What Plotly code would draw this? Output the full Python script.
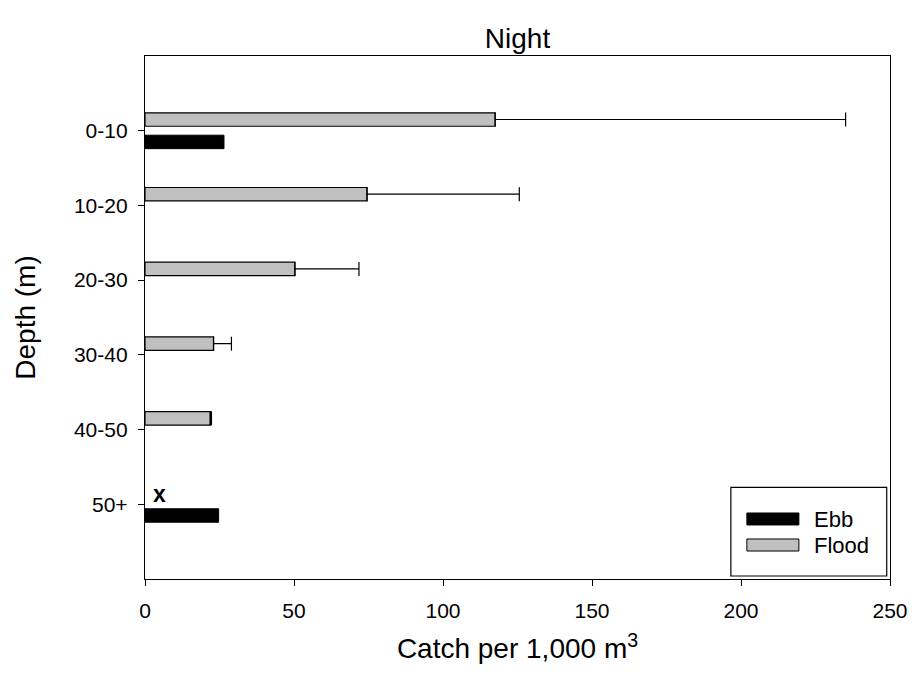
import plotly.graph_objects as go

depths = ["0-10", "10-20", "20-30", "30-40", "40-50", "50+"]
flood = [117.5, 74.5, 50.3, 23.0, 21.9, None]
flood_err = [117.6, 51.1, 21.5, 6.0, 0.4, None]
ebb = [26.5, None, None, None, None, 24.7]
x_ticks = [0, 50, 100, 150, 200, 250]

FONT = "Liberation Sans, Arial, sans-serif"

fig = go.Figure()
fig.add_trace(go.Bar(
    y=depths, x=flood, orientation="h", name="Flood",
    marker=dict(color="#c0c0c0", line=dict(color="black", width=1.2)),
    error_x=dict(type="data", array=flood_err, arrayminus=[0] * len(flood_err),
                 symmetric=False, color="black", thickness=1.2, width=7),
    showlegend=False,
))
fig.add_trace(go.Bar(
    y=depths, x=ebb, orientation="h", name="Ebb",
    marker=dict(color="black", line=dict(color="black", width=1)),
    showlegend=False,
))

# marker for the 50+ flood cell
fig.add_annotation(x=5, y="50+", text="<b>x</b>", showarrow=False, yshift=10,
                   font=dict(family=FONT, size=23, color="black"))

# custom legend box (paper coordinates)
fig.add_shape(type="rect", xref="paper", yref="paper", x0=0.7864, x1=0.9956, y0=0.0057, y1=0.1753,
              line=dict(color="black", width=1.2), fillcolor="white")
fig.add_shape(type="rect", xref="paper", yref="paper", x0=0.8079, x1=0.8777, y0=0.1033, y1=0.1262,
              line=dict(color="black", width=1), fillcolor="black")
fig.add_shape(type="rect", xref="paper", yref="paper", x0=0.8079, x1=0.8777, y0=0.0535, y1=0.0765,
              line=dict(color="black", width=1), fillcolor="#c0c0c0")
fig.add_annotation(xref="paper", yref="paper", x=0.8952, y=0.1147, text="Ebb", showarrow=False,
                   xanchor="left", yanchor="middle", font=dict(family=FONT, size=22, color="black"))
fig.add_annotation(xref="paper", yref="paper", x=0.8952, y=0.065, text="Flood", showarrow=False,
                   xanchor="left", yanchor="middle", font=dict(family=FONT, size=22, color="black"))

fig.update_layout(
    width=916, height=698,
    margin=dict(l=145, r=26, t=56, b=119),
    paper_bgcolor="white", plot_bgcolor="white",
    barmode="group", bargap=0.40, bargroupgap=0.40,
    font=dict(family=FONT, size=21, color="black"),
    title=dict(text="Night", x=0.565, xanchor="center", y=1 - 38 / 698, yanchor="middle",
               font=dict(family=FONT, size=28, color="black")),
    xaxis=dict(range=[0, 250], tickvals=x_ticks, ticks="outside", ticklen=6, tickwidth=1.2,
               tickcolor="black", showline=True, linecolor="black", linewidth=1.3, mirror=True,
               showgrid=False, zeroline=False, ticklabelstandoff=7, automargin=False,
               title=dict(text="Catch per 1,000 m<sup>3</sup>", font=dict(family=FONT, size=28),
                          standoff=17),
               tickfont=dict(size=21)),
    yaxis=dict(type="category", categoryorder="array", categoryarray=depths, range=[6, -1],
               ticks="outside", ticklen=6, tickwidth=1.2, tickcolor="black", showline=True,
               linecolor="black", linewidth=1.3, mirror=True, showgrid=False, zeroline=False,
               ticklabelstandoff=6, automargin=False,
               title=dict(text="Depth (m)", font=dict(family=FONT, size=28), standoff=30),
               tickfont=dict(size=21)),
)

fig.write_html("out.html")
